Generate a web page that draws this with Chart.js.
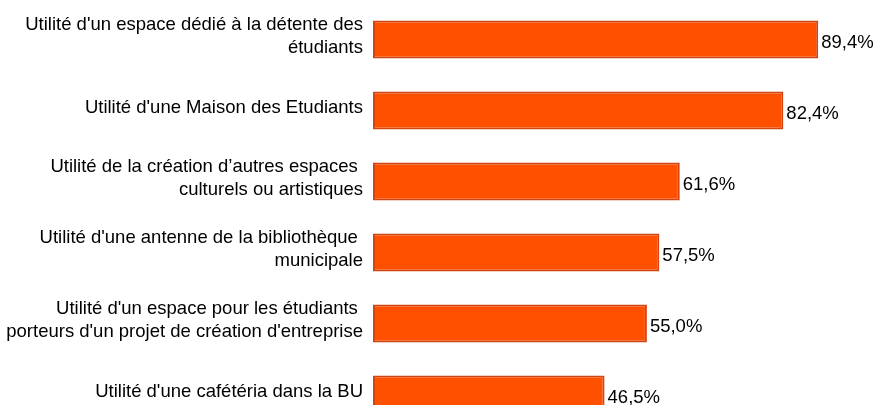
<!DOCTYPE html>
<html>
<head>
<meta charset="utf-8">
<script src="https://cdn.jsdelivr.net/npm/chart.js@4/dist/chart.umd.min.js"></script>
<style>
  html, body { margin: 0; padding: 0; background: #fff; overflow: hidden; }
  #wrap { width: 876px; height: 405px; overflow: hidden; position: relative; }
  canvas { position: absolute; left: 0; top: 0; }
</style>
</head>
<body>
<div id="wrap"><canvas id="c" width="876" height="432"></canvas></div>
<script>
const categories = [
  ["Utilité d'un espace dédié à la détente des", "étudiants"],
  "Utilité d'une Maison des Etudiants",
  ["Utilité de la création d’autres espaces ", "culturels ou artistiques"],
  ["Utilité d'une antenne de la bibliothèque ", "municipale"],
  ["Utilité d'un espace pour les étudiants ", "porteurs d'un projet de création d'entreprise"],
  "Utilité d'une cafétéria dans la BU"
];
const values = [89.4, 82.4, 61.6, 57.5, 55.0, 46.5];

const valueLabels = {
  id: 'valueLabels',
  afterDatasetsDraw(chart) {
    const ctx = chart.ctx;
    const meta = chart.getDatasetMeta(0);
    ctx.save();
    ctx.font = '18.5px "Liberation Sans", Arial, sans-serif';
    ctx.fillStyle = '#000';
    ctx.textBaseline = 'middle';
    ctx.textAlign = 'left';
    meta.data.forEach((bar, i) => {
      const txt = values[i].toFixed(1).replace('.', ',') + '%';
      ctx.fillText(txt, bar.x + 3, bar.y + 3);
    });
    ctx.restore();
  }
};

new Chart(document.getElementById('c'), {
  type: 'bar',
  data: {
    labels: categories,
    datasets: [{
      data: values,
      backgroundColor: '#FF5000',
      borderColor: '#D24412',
      borderWidth: 2,
      borderSkipped: false,
      barPercentage: 0.535,
      categoryPercentage: 1.0
    }]
  },
  options: {
    indexAxis: 'y',
    responsive: false,
    animation: false,
    layout: { padding: { top: 4, bottom: 2, left: 0, right: 5 } },
    plugins: { legend: { display: false }, tooltip: { enabled: false } },
    scales: {
      x: { min: 0, max: 100, display: false },
      y: {
        grid: { display: false },
        border: { display: false },
        afterFit(scale) {
          scale.width = 373;
          scale.paddingTop = 0;
          scale.paddingBottom = 0;
        },
        ticks: {
          color: '#000',
          padding: 2,
          labelOffset: -3,
          font: { family: '"Liberation Sans", Arial, sans-serif', size: 18.5, lineHeight: 1.243 }
        }
      }
    }
  },
  plugins: [valueLabels]
});
</script>
</body>
</html>
